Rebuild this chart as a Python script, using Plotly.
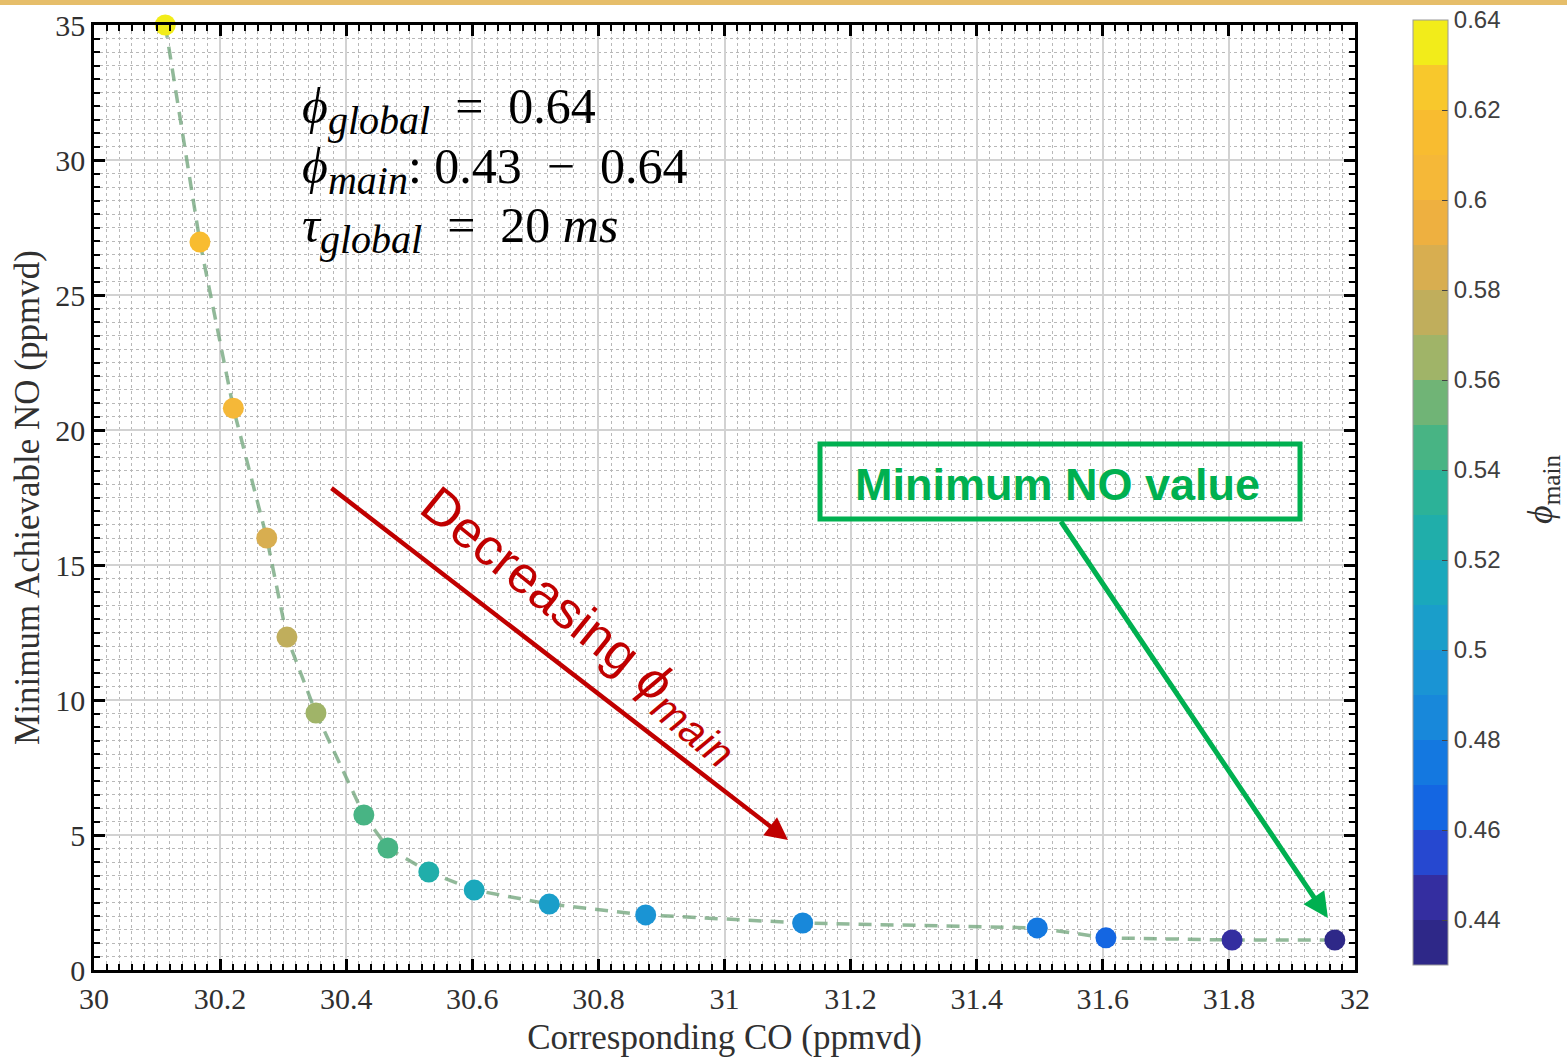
import numpy as np
import plotly.graph_objects as go

# Pareto-type trade-off: minimum NO vs the CO level reached, coloured by main-stage equivalence ratio
co_ppmvd = [30.113, 30.168, 30.221, 30.274, 30.306, 30.352, 30.428, 30.466, 30.531,
            30.603, 30.722, 30.875, 31.124, 31.496, 31.605, 31.805, 31.968]
no_ppmvd = [35.0, 26.96, 20.81, 16.0, 12.33, 9.52, 5.74, 4.52, 3.63,
            2.96, 2.44, 2.04, 1.74, 1.56, 1.19, 1.11, 1.11]
phi_main = [0.64, 0.612, 0.60, 0.585, 0.575, 0.565, 0.548, 0.542, 0.528,
            0.515, 0.505, 0.495, 0.485, 0.478, 0.468, 0.44, 0.43]

x_ticks = [30, 30.2, 30.4, 30.6, 30.8, 31, 31.2, 31.4, 31.6, 31.8, 32]
y_ticks = [0, 5, 10, 15, 20, 25, 30, 35]
cbar_ticks = [0.44, 0.46, 0.48, 0.5, 0.52, 0.54, 0.56, 0.58, 0.6, 0.62, 0.64]
phi_min, phi_max = 0.43, 0.64

# banded colour map, one colour per 0.01 step of phi (bottom -> top)
band_colors = ["#2E2888", "#342EA0", "#2648D0", "#1466E2", "#1478E0", "#1888DA",
               "#1A94D4", "#1A9ECA", "#1AA8BC", "#20AEAA", "#2CB298", "#48B484",
               "#70B476", "#A0B468", "#C0AE5C", "#D8AE50", "#EEB040", "#F5B838",
               "#F8BC30", "#F8C82C", "#F2EC1A"]
n_band = len(band_colors)
colorscale = []
for k, c in enumerate(band_colors):
    colorscale.append([k / n_band, c])
    colorscale.append([(k + 1) / n_band, c])

# plot-area geometry (pixels)
W, H = 1567, 1057
L, R, T, B = 94, 212, 25, 87
PW, PH = W - L - R, H - T - B


def px_x(p):
    return (p - L) / PW


def px_y(p):
    return (H - B - p) / PH


serif = "Liberation Serif, Times New Roman, serif"
sans = "Liberation Sans, Arial, sans-serif"

fig = go.Figure()

fig.add_trace(go.Scatter(
    x=co_ppmvd, y=no_ppmvd, mode="lines",
    line=dict(color="rgba(118,168,128,0.8)", width=3.5, dash="13px,9px"),
    hoverinfo="skip", showlegend=False, cliponaxis=False,
))

fig.add_trace(go.Scatter(
    x=co_ppmvd, y=no_ppmvd, mode="markers", cliponaxis=False,
    marker=dict(
        size=21, color=phi_main, colorscale=colorscale, cmin=phi_min, cmax=phi_max,
        line=dict(width=0),
        colorbar=dict(
            x=px_x(1413), xanchor="left", xref="paper", xpad=0, ypad=0,
            y=px_y(20), yanchor="top", len=(965 - 20) / PH, lenmode="fraction",
            thickness=35, outlinecolor="#9A9A9A", outlinewidth=1,
            tickvals=cbar_ticks, ticktext=[f"{v:g}" for v in cbar_ticks],
            ticks="inside", ticklen=6, tickcolor="#444444", tickwidth=1,
            tickfont=dict(family=sans, size=24, color="#404040"),
        ),
    ),
    showlegend=False,
))

axis_common = dict(
    showline=True, linecolor="black", linewidth=2.5, mirror="allticks",
    ticks="inside", ticklen=11, tickwidth=2.5, tickcolor="black",
    showgrid=True, gridcolor="#D2D2D2", gridwidth=1.5, zeroline=False,
    tickfont=dict(family=serif, size=30, color="#303030"),
    automargin=False,
)

fig.update_layout(
    width=W, height=H,
    margin=dict(l=L, r=R, t=T, b=B, autoexpand=False),
    paper_bgcolor="white", plot_bgcolor="white",
    xaxis=dict(
        range=[30, 32], tickvals=x_ticks, ticktext=[f"{v:g}" for v in x_ticks],
        title=dict(text="Corresponding CO (ppmvd)", font=dict(family=serif, size=35, color="#303030"),
                   standoff=14),
        minor=dict(dtick=0.02, tick0=30, ticks="inside", ticklen=6, tickwidth=2,
                   tickcolor="black", showgrid=True, gridcolor="#B8B8B8",
                   griddash="dot", gridwidth=1),
        **axis_common,
    ),
    yaxis=dict(
        range=[0, 35], tickvals=y_ticks, ticktext=[str(v) for v in y_ticks],
        title=dict(text="Minimum Achievable NO (ppmvd)", font=dict(family=serif, size=35, color="#303030"),
                   standoff=6),
        minor=dict(dtick=0.5, tick0=0, ticks="inside", ticklen=6, tickwidth=2,
                   tickcolor="black", showgrid=True, gridcolor="#B8B8B8",
                   griddash="dot", gridwidth=1),
        **axis_common,
    ),
)

# thin gold strip along the top edge of the page
fig.add_shape(type="rect", xref="paper", yref="paper",
              x0=px_x(0), x1=px_x(W), y0=px_y(5), y1=px_y(0),
              fillcolor="#E6BE6A", line=dict(width=0), layer="above")

# operating-condition annotations
sub_style = '<span style="font-size:40px">'
cond_lines = [
    ("<i>ϕ</i><sub>" + sub_style + "<i>global</i></span></sub>  =  0.64", 110),
    ("<i>ϕ</i><sub>" + sub_style + "<i>main</i></span></sub>: 0.43  −  0.64", 170),
    ("<i>τ</i><sub>" + sub_style + "<i>global</i></span></sub>  =  20 <i>ms</i>", 229),
]
for txt, yc in cond_lines:
    fig.add_annotation(text=txt, xref="paper", yref="paper", x=px_x(300), y=px_y(yc),
                       xanchor="left", yanchor="middle", showarrow=False,
                       font=dict(family=serif, size=50, color="black"))

# "Decreasing phi_main" arrow and label
fig.add_annotation(x=31.1007, y=4.815, xref="x", yref="y", ax=-458, ay=-353,
                   text="", showarrow=True, arrowhead=2, arrowsize=1.0, arrowwidth=4.5,
                   arrowcolor="#C00000")
fig.add_annotation(text="Decreasing <i>ϕ</i><sub>" + '<span style="font-size:42px">'
                        + "<i>main</i></span></sub>",
                   xref="paper", yref="paper", xanchor="center", yanchor="middle",
                   x=px_x(580), y=px_y(625), showarrow=False, textangle=39,
                   font=dict(family=sans, size=52, color="#C00000"))

# "Minimum NO value" callout
fig.add_shape(type="rect", xref="paper", yref="paper",
              x0=px_x(820), x1=px_x(1300), y0=px_y(519), y1=px_y(444),
              line=dict(color="#00B050", width=5), fillcolor="rgba(0,0,0,0)")
fig.add_annotation(text="<b>Minimum NO value</b>", xref="paper", yref="paper",
                   x=px_x(1057), y=px_y(484), xanchor="center", yanchor="middle",
                   showarrow=False,
                   font=dict(family=sans, size=45, color="#00B050"))
fig.add_annotation(x=31.957, y=1.926, xref="x", yref="y", ax=-268, ay=-398,
                   text="", showarrow=True, arrowhead=2, arrowsize=1.0, arrowwidth=5,
                   arrowcolor="#00B050")

# colour-bar title
fig.add_annotation(text="<i>ϕ</i><sub>main</sub>", xref="paper", yref="paper",
                   x=px_x(1542), y=px_y(490), xanchor="center", yanchor="middle",
                   showarrow=False, textangle=-90,
                   font=dict(family=serif, size=36, color="#303030"))

fig.write_html("out.html")
